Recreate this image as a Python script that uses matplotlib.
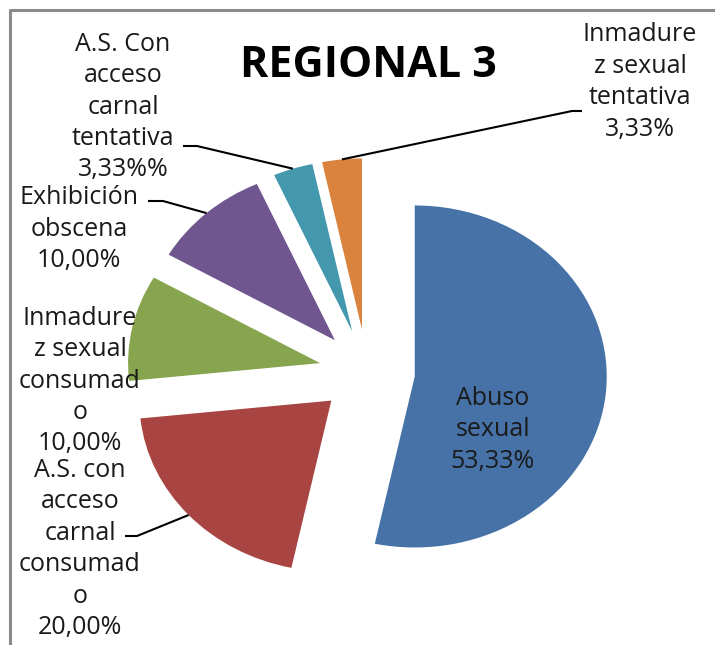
import matplotlib
matplotlib.use("Agg")
import numpy as np
from matplotlib import pyplot as plt

# slice data, in drawing order (clockwise from 12 o'clock)
labels = ['Abuso\nsexual\n53,33%',
          'A.S. con\nacceso\ncarnal\nconsumad\no\n20,00%',
          'Inmadure\nz sexual\nconsumad\no\n10,00%',
          'Exhibición\nobscena\n10,00%',
          'A.S. Con\nacceso\ncarnal\ntentativa\n3,33%%',
          'Inmadure\nz sexual\ntentativa\n3,33%']
values = [53.33, 20.00, 10.00, 10.00, 3.33, 3.33]
colors = ['#4672A8', '#A84442', '#87A44E', '#6F568F', '#4398AE', '#D9833E']

# label layout in pixels (center x, center y), leader (text end, elbow) or None
W, H = 715, 645
cx, cy = 367, 372          # pie center in pixels
rx, ry = 192, 171          # radius in pixels (picture is stretched sideways)
label_pos = [(493, 430), (80, 549), (80, 381), (79, 229), (123, 107), (640, 82)]
leaders = [None, ((125, 536), (137, 536)), None, ((148, 201), (163, 201)),
           ((183, 146), (197, 146)), ((582, 111), (572, 111))]


def px(x, y):
    return (x - cx) / rx, (cy - y) / ry


fig = plt.figure(figsize=(W / 100, H / 100), dpi=100)
ax = fig.add_axes([0, 0, 1, 1])
wedges, _ = ax.pie(values, colors=colors, startangle=90, counterclock=False,
                   explode=[0.25] * len(values), radius=1,
                   wedgeprops=dict(linewidth=0))
ax.set_aspect('auto')
ax.set_xlim(px(0, 0)[0], px(W, 0)[0])
ax.set_ylim(px(0, H)[1], px(0, 0)[1])
ax.axis('off')

for w, lab, pos, ld in zip(wedges, labels, label_pos, leaders):
    tx, ty = px(*pos)
    ax.text(tx, ty, lab, ha='center', va='center', fontsize=18,
            family='Open Sans', color='#1a1a1a', linespacing=1.34)
    if ld is not None:
        mid = np.deg2rad((w.theta1 + w.theta2) / 2)
        ex = w.center[0] + w.r * np.cos(mid)
        ey = w.center[1] + w.r * np.sin(mid)
        (x0, y0), (x1, y1) = px(*ld[0]), px(*ld[1])
        ax.plot([x0, x1, ex], [y0, y1, ey], color='black', lw=1.5,
                solid_capstyle='butt')

ax.text(*px(368, 77), 'REGIONAL 3', ha='center', va='baseline',
        fontsize=31, fontweight='bold', family='Open Sans', color='black')

# chart area border (only top and left visible)
ax.plot([px(10, H)[0], px(10, 10)[0], px(W, 10)[0]],
        [px(10, H)[1], px(10, 10)[1], px(W, 10)[1]],
        color='#8a8a8a', lw=2.2, clip_on=False)

fig.savefig('out.png', dpi=100)
